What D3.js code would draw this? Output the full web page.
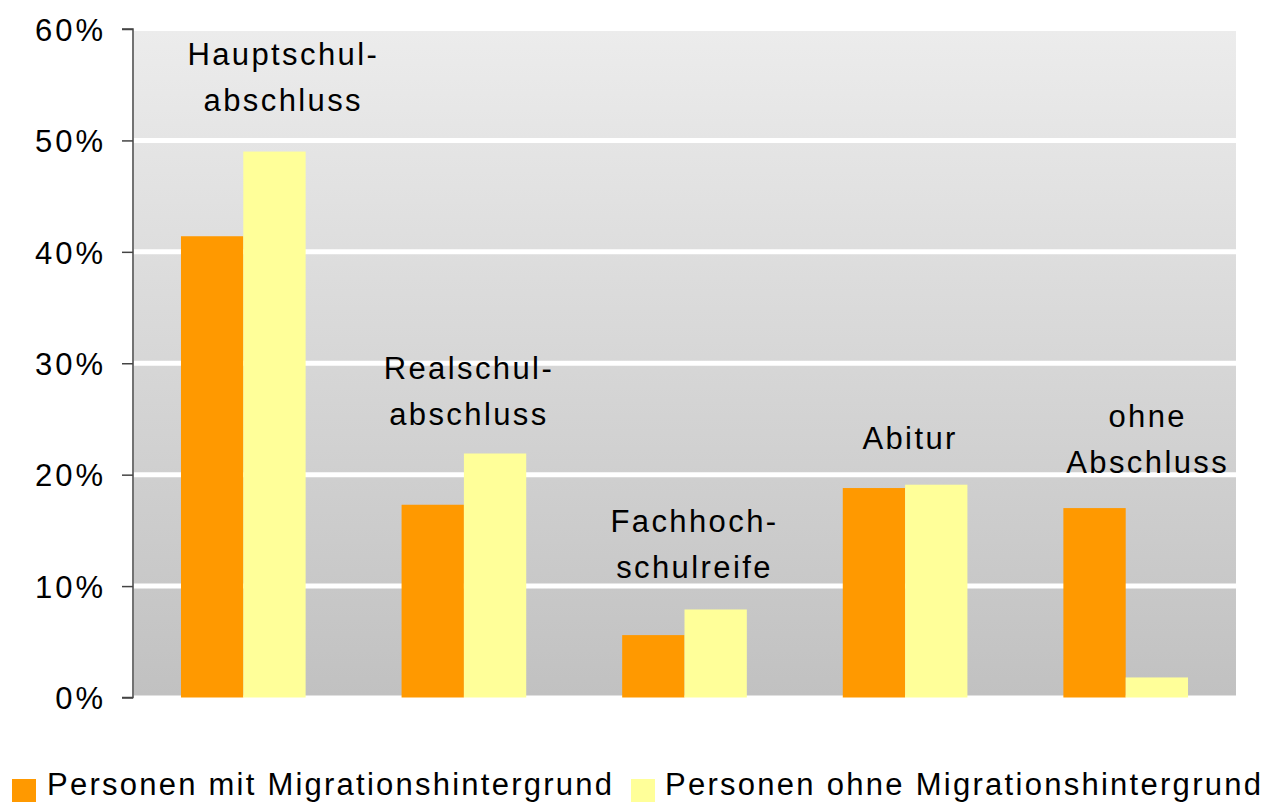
<!DOCTYPE html>
<html><head><meta charset="utf-8">
<script src="https://cdn.jsdelivr.net/npm/d3@7"></script>
<style>body{margin:0;background:#fff}svg{display:block;font-family:"Liberation Sans",Arial,sans-serif}</style>
</head><body><svg id="c" width="1267" height="806"></svg>
<script>
const categories = ["Hauptschulabschluss","Realschulabschluss","Fachhochschulreife","Abitur","ohne Abschluss"];
const categoryLabels = [["Hauptschul-","abschluss"],["Realschul-","abschluss"],["Fachhoch-","schulreife"],["Abitur"],["ohne","Abschluss"]];
const seriesNames = ["Personen mit Migrationshintergrund","Personen ohne Migrationshintergrund"];
const withMigration = [41.4, 17.3, 5.6, 18.8, 17.0];
const withoutMigration = [49.0, 21.9, 7.9, 19.1, 1.8];
const yTicks = [0,10,20,30,40,50,60];
const colors = ["#FF9900","#FFFF99"];

// layout (not data)
const labelTopBaseline = [65, 379, 532, 449, 427];
const labelDx = [40, 5, 10, 5, 22];

const svg = d3.select("#c");
const L = 133, R = 1236, T = 29, B = 697.5;
const y = d3.scaleLinear().domain([0,60]).range([B,T]);
const x = d3.scaleBand().domain(categories).range([L,R]).paddingInner(0.435).paddingOuter(0.2175);
const xs = d3.scaleBand().domain([0,1]).range([0,x.bandwidth()]);

const defs = svg.append("defs");
const g = defs.append("linearGradient").attr("id","bg").attr("x1",0).attr("y1",0).attr("x2",0).attr("y2",1);
g.append("stop").attr("offset","0%").attr("stop-color","#ececec");
g.append("stop").attr("offset","100%").attr("stop-color","#c1c1c1");

svg.append("rect").attr("x",L+1).attr("y",y(60)+2).attr("width",R-L-1).attr("height",y(0)-y(60)-4).attr("fill","url(#bg)");

svg.append("g").selectAll("line").data(yTicks.filter(d=>d>0&&d<60)).join("line")
  .attr("x1",L+1).attr("x2",R).attr("y1",d=>y(d)).attr("y2",d=>y(d))
  .attr("stroke","#fff").attr("stroke-width",5);

const series = [withMigration, withoutMigration];
series.forEach((vals,si)=>{
  svg.append("g").selectAll("rect").data(vals).join("rect")
    .attr("x",(d,i)=>x(categories[i])+xs(si))
    .attr("width",xs.bandwidth())
    .attr("y",d=>y(d))
    .attr("height",d=>y(0)-y(d))
    .attr("fill",colors[si]);
});

const axis = d3.axisLeft(y).tickValues(yTicks).tickFormat(d=>d+"%").tickSize(11).tickPadding(16);
const ag = svg.append("g").attr("transform",`translate(${L},0)`).call(axis);
ag.select(".domain").attr("stroke","#444").attr("stroke-width",1.5).attr("d",`M-11,${y(60)}H0V${y(0)}H-11`);
ag.selectAll(".tick line").attr("stroke","#444").attr("stroke-width",1.5);
ag.selectAll(".tick text").attr("font-size",31).attr("letter-spacing","3px").attr("fill","#000").attr("font-family","'Liberation Sans',Arial,sans-serif").attr("dy","0.36em");

categoryLabels.forEach((lines,i)=>{
  const cx = x(categories[i]) + x.bandwidth()/2 + labelDx[i];
  const t = svg.append("text").attr("text-anchor","middle").attr("font-size",31).attr("letter-spacing","2.4px").attr("fill","#000");
  lines.forEach((ln,j)=>{
    t.append("tspan").attr("x",cx).attr("y",labelTopBaseline[i]+j*45.5).text(ln);
  });
});

// legend
const leg = [{x:12, tx:47, end:612},{x:631, tx:665, end:1261}];
leg.forEach((l,i)=>{
  svg.append("rect").attr("x",l.x).attr("y",779).attr("width",24).attr("height",23).attr("fill",colors[i]);
  svg.append("text").attr("x",l.tx).attr("y",795).attr("font-size",31).attr("fill","#000")
    .attr("textLength",l.end-l.tx).attr("lengthAdjust","spacing").text(seriesNames[i]);
});
</script></body></html>
